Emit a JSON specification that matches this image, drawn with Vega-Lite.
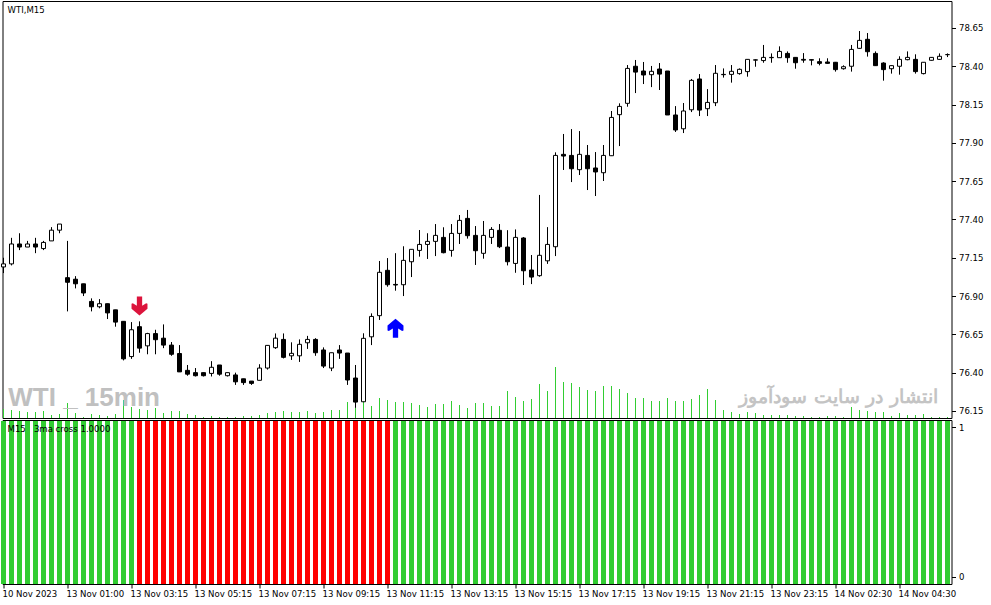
{"$schema":"https://vega.github.io/schema/vega-lite/v6.json","padding":{"left":0.5,"top":0,"right":0,"bottom":0},"background":"white","spacing":2,"bounds":"flush",
"config":{"view":{"stroke":"black","strokeWidth":1},"axis":{"labelFont":"DejaVu Sans Condensed, Liberation Sans","labelFontSize":9.5,"labelColor":"black","tickColor":"black","domain":false,"grid":false,"title":null,"tickSize":4,"labelPadding":3},"text":{"font":"DejaVu Sans Condensed, Liberation Sans"}},
"datasets":{"candles":[
{"i":0,"o":77.09,"h":77.15,"l":77.05,"c":77.11,"v":9,"s":"up"},{"i":1,"o":77.11,"h":77.28,"l":77.1,"c":77.24,"v":8,"s":"up"},{"i":2,"o":77.24,"h":77.31,"l":77.2,"c":77.22,"v":7,"s":"up"},{"i":3,"o":77.22,"h":77.26,"l":77.22,"c":77.24,"v":6,"s":"up"},{"i":4,"o":77.24,"h":77.28,"l":77.18,"c":77.22,"v":6,"s":"up"},{"i":5,"o":77.21,"h":77.26,"l":77.2,"c":77.25,"v":7,"s":"up"},{"i":6,"o":77.26,"h":77.35,"l":77.26,"c":77.33,"v":3,"s":"up"},{"i":7,"o":77.33,"h":77.37,"l":77.31,"c":77.37,"v":4,"s":"up"},{"i":8,"o":77.02,"h":77.26,"l":76.8,"c":76.99,"v":15,"s":"up"},{"i":9,"o":77.01,"h":77.03,"l":76.95,"c":76.98,"v":5,"s":"up"},{"i":10,"o":76.98,"h":76.98,"l":76.9,"c":76.92,"v":1,"s":"up"},{"i":11,"o":76.865,"h":76.885,"l":76.8,"c":76.83,"v":4,"s":"up"},{"i":12,"o":76.83,"h":76.88,"l":76.82,"c":76.85,"v":3,"s":"up"},{"i":13,"o":76.85,"h":76.85,"l":76.75,"c":76.79,"v":2,"s":"up"},{"i":14,"o":76.81,"h":76.81,"l":76.7,"c":76.73,"v":4,"s":"up"},{"i":15,"o":76.735,"h":76.735,"l":76.48,"c":76.49,"v":18,"s":"up"},{"i":16,"o":76.505,"h":76.73,"l":76.49,"c":76.68,"v":11,"s":"up"},{"i":17,"o":76.7,"h":76.735,"l":76.53,"c":76.56,"v":9,"s":"down"},{"i":18,"o":76.575,"h":76.66,"l":76.52,"c":76.655,"v":8,"s":"down"},{"i":19,"o":76.655,"h":76.68,"l":76.52,"c":76.615,"v":10,"s":"down"},
{"i":20,"o":76.625,"h":76.715,"l":76.56,"c":76.58,"v":5,"s":"down"},{"i":21,"o":76.58,"h":76.6,"l":76.51,"c":76.52,"v":7,"s":"down"},{"i":22,"o":76.525,"h":76.58,"l":76.405,"c":76.405,"v":7,"s":"down"},{"i":23,"o":76.415,"h":76.45,"l":76.38,"c":76.39,"v":4,"s":"down"},{"i":24,"o":76.4,"h":76.43,"l":76.375,"c":76.38,"v":3,"s":"down"},{"i":25,"o":76.4,"h":76.4,"l":76.375,"c":76.38,"v":1,"s":"down"},{"i":26,"o":76.395,"h":76.475,"l":76.375,"c":76.435,"v":2,"s":"down"},{"i":27,"o":76.45,"h":76.45,"l":76.38,"c":76.39,"v":1,"s":"down"},{"i":28,"o":76.38,"h":76.4,"l":76.375,"c":76.4,"v":1,"s":"down"},{"i":29,"o":76.385,"h":76.4,"l":76.32,"c":76.34,"v":1,"s":"down"},{"i":30,"o":76.36,"h":76.36,"l":76.32,"c":76.335,"v":2,"s":"down"},{"i":31,"o":76.345,"h":76.345,"l":76.32,"c":76.33,"v":2,"s":"down"},{"i":32,"o":76.35,"h":76.455,"l":76.35,"c":76.43,"v":3,"s":"down"},{"i":33,"o":76.43,"h":76.58,"l":76.42,"c":76.578,"v":5,"s":"down"},{"i":34,"o":76.563,"h":76.656,"l":76.555,"c":76.625,"v":6,"s":"down"},{"i":35,"o":76.617,"h":76.656,"l":76.493,"c":76.5,"v":7,"s":"down"},{"i":36,"o":76.51,"h":76.598,"l":76.483,"c":76.526,"v":6,"s":"down"},{"i":37,"o":76.51,"h":76.617,"l":76.47,"c":76.585,"v":6,"s":"down"},{"i":38,"o":76.595,"h":76.64,"l":76.555,"c":76.617,"v":7,"s":"down"},{"i":39,"o":76.617,"h":76.625,"l":76.51,"c":76.53,"v":5,"s":"down"},
{"i":40,"o":76.548,"h":76.565,"l":76.43,"c":76.443,"v":6,"s":"down"},{"i":41,"o":76.43,"h":76.53,"l":76.41,"c":76.53,"v":8,"s":"down"},{"i":42,"o":76.548,"h":76.58,"l":76.49,"c":76.528,"v":8,"s":"down"},{"i":43,"o":76.528,"h":76.528,"l":76.32,"c":76.352,"v":16,"s":"down"},{"i":44,"o":76.365,"h":76.45,"l":76.17,"c":76.208,"v":10,"s":"down"},{"i":45,"o":76.21,"h":76.657,"l":76.208,"c":76.624,"v":16,"s":"down"},{"i":46,"o":76.634,"h":76.787,"l":76.58,"c":76.767,"v":12,"s":"down"},{"i":47,"o":76.772,"h":77.129,"l":76.744,"c":77.055,"v":20,"s":"down"},{"i":48,"o":77.068,"h":77.148,"l":76.961,"c":76.974,"v":18,"s":"down"},{"i":49,"o":76.976,"h":77.18,"l":76.935,"c":76.972,"v":16,"s":"up"},{"i":50,"o":76.974,"h":77.225,"l":76.9,"c":77.133,"v":16,"s":"up"},{"i":51,"o":77.124,"h":77.205,"l":77.024,"c":77.205,"v":15,"s":"up"},{"i":52,"o":77.198,"h":77.331,"l":77.157,"c":77.237,"v":13,"s":"up"},{"i":53,"o":77.237,"h":77.31,"l":77.142,"c":77.257,"v":11,"s":"up"},{"i":54,"o":77.257,"h":77.37,"l":77.161,"c":77.296,"v":14,"s":"up"},{"i":55,"o":77.283,"h":77.349,"l":77.179,"c":77.183,"v":14,"s":"up"},{"i":56,"o":77.198,"h":77.37,"l":77.157,"c":77.309,"v":17,"s":"up"},{"i":57,"o":77.309,"h":77.429,"l":77.24,"c":77.394,"v":13,"s":"up"},{"i":58,"o":77.407,"h":77.462,"l":77.275,"c":77.294,"v":10,"s":"up"},{"i":59,"o":77.296,"h":77.357,"l":77.103,"c":77.196,"v":15,"s":"up"},
{"i":60,"o":77.179,"h":77.39,"l":77.144,"c":77.296,"v":15,"s":"up"},{"i":61,"o":77.283,"h":77.35,"l":77.24,"c":77.335,"v":12,"s":"up"},{"i":62,"o":77.329,"h":77.37,"l":77.213,"c":77.222,"v":12,"s":"up"},{"i":63,"o":77.22,"h":77.33,"l":77.1,"c":77.124,"v":27,"s":"up"},{"i":64,"o":77.113,"h":77.335,"l":77.052,"c":77.283,"v":21,"s":"up"},{"i":65,"o":77.279,"h":77.285,"l":76.972,"c":77.065,"v":17,"s":"up"},{"i":66,"o":77.07,"h":77.168,"l":76.978,"c":77.024,"v":19,"s":"up"},{"i":67,"o":77.033,"h":77.56,"l":77.026,"c":77.166,"v":34,"s":"up"},{"i":68,"o":77.13,"h":77.35,"l":77.11,"c":77.237,"v":27,"s":"up"},{"i":69,"o":77.222,"h":77.838,"l":77.161,"c":77.818,"v":51,"s":"up"},{"i":70,"o":77.825,"h":77.958,"l":77.723,"c":77.814,"v":36,"s":"up"},{"i":71,"o":77.818,"h":77.99,"l":77.644,"c":77.731,"v":35,"s":"up"},{"i":72,"o":77.725,"h":77.977,"l":77.69,"c":77.825,"v":31,"s":"up"},{"i":73,"o":77.818,"h":77.886,"l":77.592,"c":77.731,"v":28,"s":"up"},{"i":74,"o":77.736,"h":77.84,"l":77.553,"c":77.71,"v":27,"s":"up"},{"i":75,"o":77.705,"h":77.886,"l":77.651,"c":77.818,"v":32,"s":"up"},{"i":76,"o":77.816,"h":78.108,"l":77.814,"c":78.066,"v":32,"s":"up"},{"i":77,"o":78.084,"h":78.158,"l":77.879,"c":78.138,"v":29,"s":"up"},{"i":78,"o":78.158,"h":78.408,"l":78.136,"c":78.386,"v":25,"s":"up"},{"i":79,"o":78.4,"h":78.441,"l":78.225,"c":78.362,"v":20,"s":"up"},
{"i":80,"o":78.369,"h":78.428,"l":78.284,"c":78.343,"v":20,"s":"up"},{"i":81,"o":78.345,"h":78.402,"l":78.264,"c":78.367,"v":17,"s":"up"},{"i":82,"o":78.382,"h":78.421,"l":78.245,"c":78.349,"v":17,"s":"up"},{"i":83,"o":78.369,"h":78.369,"l":78.082,"c":78.082,"v":20,"s":"up"},{"i":84,"o":78.082,"h":78.14,"l":77.971,"c":77.984,"v":17,"s":"up"},{"i":85,"o":77.992,"h":78.16,"l":77.964,"c":78.108,"v":17,"s":"up"},{"i":86,"o":78.116,"h":78.317,"l":78.101,"c":78.308,"v":19,"s":"up"},{"i":87,"o":78.317,"h":78.349,"l":78.075,"c":78.114,"v":23,"s":"up"},{"i":88,"o":78.123,"h":78.251,"l":78.075,"c":78.164,"v":29,"s":"up"},{"i":89,"o":78.162,"h":78.408,"l":78.14,"c":78.354,"v":18,"s":"up"},{"i":90,"o":78.347,"h":78.386,"l":78.326,"c":78.345,"v":8,"s":"up"},{"i":91,"o":78.347,"h":78.408,"l":78.293,"c":78.367,"v":6,"s":"up"},{"i":92,"o":78.352,"h":78.386,"l":78.345,"c":78.38,"v":4,"s":"up"},{"i":93,"o":78.365,"h":78.447,"l":78.332,"c":78.445,"v":6,"s":"up"},{"i":94,"o":78.44,"h":78.445,"l":78.397,"c":78.442,"v":5,"s":"up"},{"i":95,"o":78.437,"h":78.539,"l":78.423,"c":78.458,"v":3,"s":"up"},{"i":96,"o":78.456,"h":78.484,"l":78.423,"c":78.458,"v":3,"s":"up"},{"i":97,"o":78.456,"h":78.53,"l":78.456,"c":78.497,"v":3,"s":"up"},{"i":98,"o":78.484,"h":78.497,"l":78.423,"c":78.456,"v":3,"s":"up"},{"i":99,"o":78.458,"h":78.458,"l":78.384,"c":78.423,"v":2,"s":"up"},
{"i":100,"o":78.445,"h":78.486,"l":78.423,"c":78.44,"v":2,"s":"up"},{"i":101,"o":78.443,"h":78.445,"l":78.406,"c":78.44,"v":1,"s":"up"},{"i":102,"o":78.43,"h":78.452,"l":78.406,"c":78.419,"v":1,"s":"up"},{"i":103,"o":78.428,"h":78.452,"l":78.417,"c":78.419,"v":2,"s":"up"},{"i":104,"o":78.426,"h":78.428,"l":78.365,"c":78.378,"v":2,"s":"up"},{"i":105,"o":78.384,"h":78.406,"l":78.378,"c":78.397,"v":1,"s":"up"},{"i":106,"o":78.4,"h":78.539,"l":78.365,"c":78.51,"v":11,"s":"up"},{"i":107,"o":78.517,"h":78.63,"l":78.513,"c":78.569,"v":8,"s":"up"},{"i":108,"o":78.576,"h":78.617,"l":78.463,"c":78.495,"v":7,"s":"up"},{"i":109,"o":78.484,"h":78.497,"l":78.402,"c":78.404,"v":6,"s":"up"},{"i":110,"o":78.421,"h":78.426,"l":78.306,"c":78.378,"v":6,"s":"up"},{"i":111,"o":78.384,"h":78.406,"l":78.352,"c":78.404,"v":2,"s":"up"},{"i":112,"o":78.4,"h":78.465,"l":78.345,"c":78.445,"v":5,"s":"up"},{"i":113,"o":78.443,"h":78.497,"l":78.439,"c":78.458,"v":3,"s":"up"},{"i":114,"o":78.445,"h":78.478,"l":78.352,"c":78.365,"v":3,"s":"up"},{"i":115,"o":78.352,"h":78.426,"l":78.347,"c":78.426,"v":4,"s":"up"},{"i":116,"o":78.439,"h":78.46,"l":78.437,"c":78.458,"v":1,"s":"up"},{"i":117,"o":78.445,"h":78.484,"l":78.443,"c":78.465,"v":1,"s":"up"},{"i":118,"o":78.476,"h":78.484,"l":78.46,"c":78.476,"v":1,"s":"up"}
]},
"vconcat":[
{"width":949,"height":417,
"resolve":{"scale":{"y":"independent"}},
"layer":[
{"data":{"name":"candles"},"mark":{"type":"rule","color":"#32CD32","strokeWidth":1},
"encoding":{"x":{"field":"i","type":"quantitative","scale":{"domain":[-0.125,118.5],"nice":false,"zero":false,"padding":0},"axis":null},
"y":{"field":"v","type":"quantitative","scale":{"domain":[0,417],"nice":false},"axis":null},"y2":{"datum":0}}},
{"layer":[
{"data":{"values":[{"t":"WTI _ 15min","i":0.6,"p":76.232}]},"mark":{"type":"text","font":"Liberation Sans","fontWeight":"bold","fontSize":26,"color":"#C0C0C0","align":"left","baseline":"middle"},
"encoding":{"x":{"field":"i","type":"quantitative"},"y":{"field":"p","type":"quantitative"},"text":{"field":"t"}}},
{"data":{"values":[{"t":"انتشار در سایت سودآموز","i":116.8,"p":76.24}]},"mark":{"type":"text","font":"DejaVu Serif","fontWeight":"bold","fontSize":19,"color":"#C4C4C4","align":"right","baseline":"middle"},
"encoding":{"x":{"field":"i","type":"quantitative"},"y":{"field":"p","type":"quantitative"},"text":{"field":"t"}}},
{"data":{"values":[{"t":"WTI,M15","i":0.5,"p":78.765}]},"mark":{"type":"text","fontSize":9.5,"color":"black","align":"left","baseline":"middle"},
"encoding":{"x":{"field":"i","type":"quantitative"},"y":{"field":"p","type":"quantitative"},"text":{"field":"t"}}},
{"data":{"name":"candles"},"mark":{"type":"rule","color":"black","strokeWidth":1},
"encoding":{"x":{"field":"i","type":"quantitative","scale":{"domain":[-0.125,118.5],"nice":false,"zero":false,"padding":0},"axis":null},
"y":{"field":"l","type":"quantitative","scale":{"domain":[76.104,78.826],"nice":false,"zero":false},
"axis":{"orient":"right","values":[76.15,76.4,76.65,76.9,77.15,77.4,77.65,77.9,78.15,78.4,78.65],"format":".2f"}},"y2":{"field":"h"}}},
{"data":{"name":"candles"},"mark":{"type":"bar","size":4,"stroke":"black","strokeWidth":1},
"encoding":{"x":{"field":"i","type":"quantitative"},"y":{"field":"o","type":"quantitative"},"y2":{"field":"c"},
"fill":{"condition":{"test":"datum.c>=datum.o","value":"white"},"value":"black"}}},
{"data":{"values":[{"i":17,"p":76.835,"k":"sell"}]},"mark":{"type":"point","filled":true,"opacity":1,"size":1444,"color":"#DC143C","shape":"M-.14,-.5 L.14,-.5 L.14,-.02 L.35,-.14 L.42,-.12 L.42,.14 L0,.5 L-.42,.14 L-.42,-.12 L-.35,-.14 L-.14,-.02 Z"},
"encoding":{"x":{"field":"i","type":"quantitative"},"y":{"field":"p","type":"quantitative"}}},
{"data":{"values":[{"i":49,"p":76.69,"k":"buy"}]},"mark":{"type":"point","filled":true,"opacity":1,"size":1444,"color":"#0000FF","shape":"M-.14,.5 L.14,.5 L.14,.02 L.35,.14 L.42,.12 L.42,-.14 L0,-.5 L-.42,-.14 L-.42,.12 L-.35,.14 L-.14,.02 Z"},
"encoding":{"x":{"field":"i","type":"quantitative"},"y":{"field":"p","type":"quantitative"}}}
]}
]},
{"width":949,"height":164,
"layer":[
{"data":{"name":"candles"},"mark":{"type":"bar","size":5},
"encoding":{"x":{"field":"i","type":"quantitative","scale":{"domain":[-0.125,118.5],"nice":false,"zero":false,"padding":0},
"axis":{"values":[0,8,16,24,32,40,48,56,64,72,80,88,96,104,112],"labelAlign":"left","labelPadding":0,"labelOffset":-1.5,"labelFlush":false,"labelOverlap":false,
"labelExpr":"['10 Nov 2023','13 Nov 01:00','13 Nov 03:15','13 Nov 05:15','13 Nov 07:15','13 Nov 09:15','13 Nov 11:15','13 Nov 13:15','13 Nov 15:15','13 Nov 17:15','13 Nov 19:15','13 Nov 21:15','13 Nov 23:15','14 Nov 02:30','14 Nov 04:30'][datum.value/8]"}},
"y":{"datum":1.04,"type":"quantitative","scale":{"domain":[-0.047,1.047],"nice":false,"zero":false},"axis":{"orient":"right","values":[0,1],"format":"d"}},"y2":{"datum":-0.047},
"color":{"field":"s","type":"nominal","scale":{"domain":["up","down"],"range":["#32CD32","#FF0000"]},"legend":null}}},
{"data":{"values":[{"t":"M15\u00a0\u00a0\u00a03ma cross 1.0000","i":0.5,"y":0.985}]},"mark":{"type":"text","fontSize":9.5,"color":"black","align":"left","baseline":"middle"},
"encoding":{"x":{"field":"i","type":"quantitative"},"y":{"field":"y","type":"quantitative"},"text":{"field":"t"}}}
]}
]}
